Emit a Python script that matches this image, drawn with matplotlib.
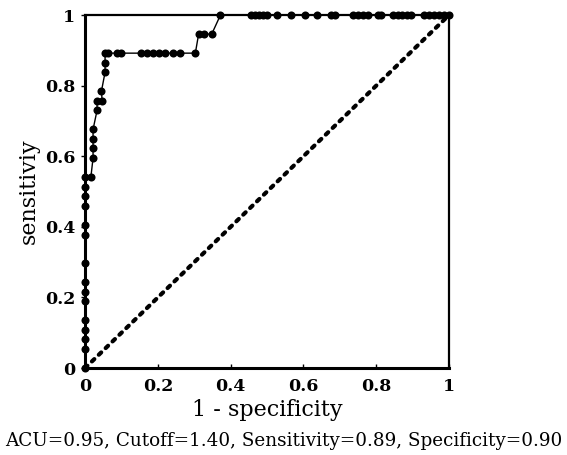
import matplotlib
matplotlib.use("Agg")
import matplotlib.pyplot as plt

# ROC curve points (1 - specificity, sensitivity)
fpr = [0.0, 0.0, 0.0, 0.0, 0.0, 0.0, 0.0, 0.0, 0.0, 0.0, 0.0, 0.0, 0.0, 0.0, 0.0,
       0.016, 0.022, 0.022, 0.022, 0.022, 0.033, 0.033, 0.047, 0.045,
       0.055, 0.055, 0.055, 0.064, 0.089, 0.098, 0.153, 0.171, 0.186, 0.203,
       0.219, 0.241, 0.262, 0.303,
       0.312, 0.326, 0.348,
       0.372, 0.455, 0.466, 0.477, 0.488, 0.499, 0.526, 0.567, 0.605, 0.636,
       0.677, 0.688, 0.737, 0.751, 0.764, 0.778, 0.805, 0.814,
       0.847, 0.859, 0.871, 0.884, 0.896,
       0.930, 0.944, 0.958, 0.972, 0.986, 1.0]
tpr = [0.0, 0.054, 0.081, 0.108, 0.135, 0.189, 0.216, 0.243, 0.297, 0.378, 0.405,
       0.459, 0.486, 0.514, 0.541,
       0.541, 0.595, 0.622, 0.649, 0.676, 0.730, 0.757, 0.757, 0.784,
       0.838, 0.865, 0.892, 0.892, 0.892, 0.892, 0.892, 0.892, 0.892, 0.892,
       0.892, 0.892, 0.892, 0.892,
       0.946, 0.946, 0.946,
       1.0, 1.0, 1.0, 1.0, 1.0, 1.0, 1.0, 1.0, 1.0, 1.0,
       1.0, 1.0, 1.0, 1.0, 1.0, 1.0, 1.0, 1.0,
       1.0, 1.0, 1.0, 1.0, 1.0,
       1.0, 1.0, 1.0, 1.0, 1.0, 1.0]

ref_line = [0.0, 1.0]
ticks = [0, 0.2, 0.4, 0.6, 0.8, 1]
tick_labels = ["0", "0.2", "0.4", "0.6", "0.8", "1"]
summary = "ACU=0.95, Cutoff=1.40, Sensitivity=0.89, Specificity=0.90"

plt.rcParams["font.family"] = ["DejaVu Serif"]

fig = plt.figure(figsize=(5.67, 4.55), dpi=100)
ax = fig.add_axes([0.150, 0.191, 0.642, 0.776])

ax.plot(ref_line, ref_line, color="black", linewidth=3.0,
        linestyle=(0, (0.8, 1.5)), dash_capstyle="round", zorder=2)
ax.plot(fpr, tpr, color="black", linewidth=1.0, marker="o",
        markersize=5.8, markeredgewidth=0, zorder=3, clip_on=False)

ax.set_xlim(0, 1)
ax.set_ylim(0, 1)
ax.set_xticks(ticks)
ax.set_yticks(ticks)
ax.set_xticklabels(tick_labels, fontweight="bold", fontsize=12.5)
ax.set_yticklabels(tick_labels, fontweight="bold", fontsize=12.5)
ax.tick_params(axis="x", direction="in", length=3, width=1, pad=7)
ax.tick_params(axis="y", direction="out", length=3, width=1, pad=4)

for side in ("left", "bottom"):
    ax.spines[side].set_linewidth(2.2)
for side in ("top", "right"):
    ax.spines[side].set_linewidth(1.6)

ax.set_xlabel("1 - specificity", fontsize=16, labelpad=3)
ax.set_ylabel("sensitiviy", fontsize=16, labelpad=4)

fig.text(0.5, 0.03, summary, ha="center", va="center", fontsize=13.2)

fig.savefig("out.png", dpi=100)
